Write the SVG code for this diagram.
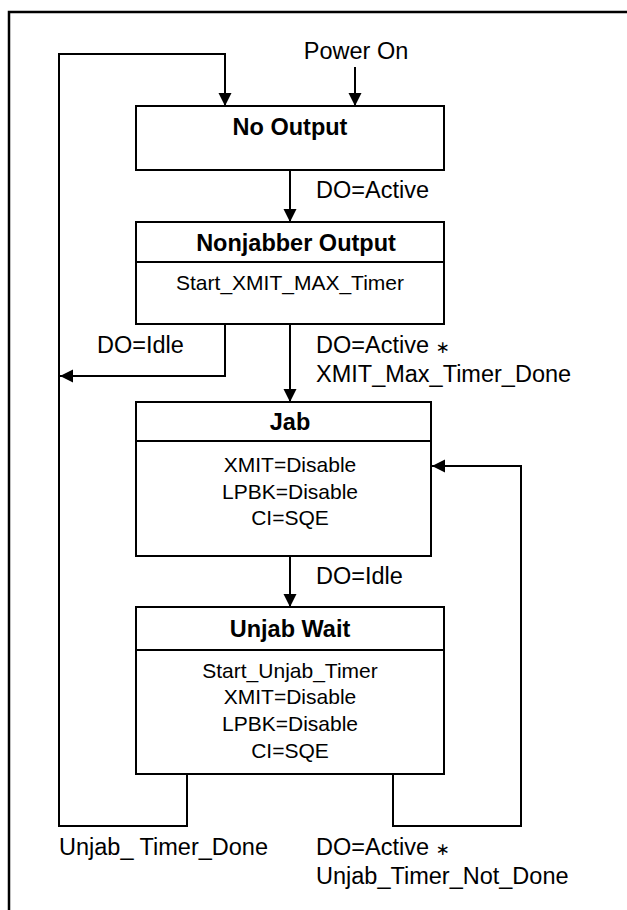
<svg xmlns="http://www.w3.org/2000/svg" width="627" height="910" viewBox="0 0 627 910">
<style>
.box{fill:#fff;stroke:#000;stroke-width:2}
.div{stroke:#000;stroke-width:2}
.con{fill:none;stroke:#000;stroke-width:2}
.t{font-family:"Liberation Sans",Arial,Helvetica,sans-serif;fill:#000}
.title{font-size:23.5px;font-weight:bold;text-anchor:middle}
.body{font-size:21px;text-anchor:middle}
.lbl{font-size:23.5px}
.ast{font-size:17px;font-family:"DejaVu Sans",sans-serif}
</style>
<defs>
<marker id="arr" markerUnits="userSpaceOnUse" markerWidth="14" markerHeight="14" refX="13" refY="6.5" orient="auto">
<path d="M0,0 L13,6.5 L0,13 z" fill="#000"/>
</marker>
</defs>
<rect width="627" height="910" fill="#fff"/>
<path d="M9,910 V12 H627" fill="none" stroke="#000" stroke-width="2.5"/>
<g id="connectors">
<path class="con" d="M355,67 V106" marker-end="url(#arr)"/>
<path class="con" d="M187,774 V826 H59 V54 H225 V106" marker-end="url(#arr)"/>
<path class="con" d="M225,324 V376 H60" marker-end="url(#arr)"/>
<path class="con" d="M290,170 V222" marker-end="url(#arr)"/>
<path class="con" d="M290,324 V402" marker-end="url(#arr)"/>
<path class="con" d="M290,556 V607" marker-end="url(#arr)"/>
<path class="con" d="M393,774 V826 H521 V466 H432" marker-end="url(#arr)"/>
</g>
<g id="labels" class="t lbl">
<text x="356" y="59" text-anchor="middle">Power On</text>
<text x="316" y="198">DO=Active</text>
<text x="97" y="353">DO=Idle</text>
<text x="316" y="353">DO=Active <tspan class="ast">∗</tspan></text>
<text x="316" y="382">XMIT_Max_Timer_Done</text>
<text x="316" y="584">DO=Idle</text>
<text x="59" y="855">Unjab_ Timer_Done</text>
<text x="316" y="855">DO=Active <tspan class="ast">∗</tspan></text>
<text x="316" y="884">Unjab_Timer_Not_Done</text>
</g>
<g id="no-output">
<rect class="box" x="136" y="106" width="308" height="64"/>
<text class="t title" x="290" y="135">No Output</text>
</g>
<g id="nonjabber-output">
<rect class="box" x="136" y="222" width="308" height="102"/>
<line class="div" x1="136" y1="262" x2="444" y2="262"/>
<text class="t title" x="296" y="251">Nonjabber Output</text>
<text class="t body" x="290" y="290">Start_XMIT_MAX_Timer</text>
</g>
<g id="jab">
<rect class="box" x="136" y="402" width="295" height="154"/>
<line class="div" x1="136" y1="441" x2="431" y2="441"/>
<text class="t title" x="290" y="430">Jab</text>
<text class="t body" x="290" y="472">XMIT=Disable</text>
<text class="t body" x="290" y="499">LPBK=Disable</text>
<text class="t body" x="290" y="525">CI=SQE</text>
</g>
<g id="unjab-wait">
<rect class="box" x="136" y="607" width="308" height="167"/>
<line class="div" x1="136" y1="650" x2="444" y2="650"/>
<text class="t title" x="290" y="637">Unjab Wait</text>
<text class="t body" x="290" y="678">Start_Unjab_Timer</text>
<text class="t body" x="290" y="704">XMIT=Disable</text>
<text class="t body" x="290" y="731">LPBK=Disable</text>
<text class="t body" x="290" y="758">CI=SQE</text>
</g>
</svg>
